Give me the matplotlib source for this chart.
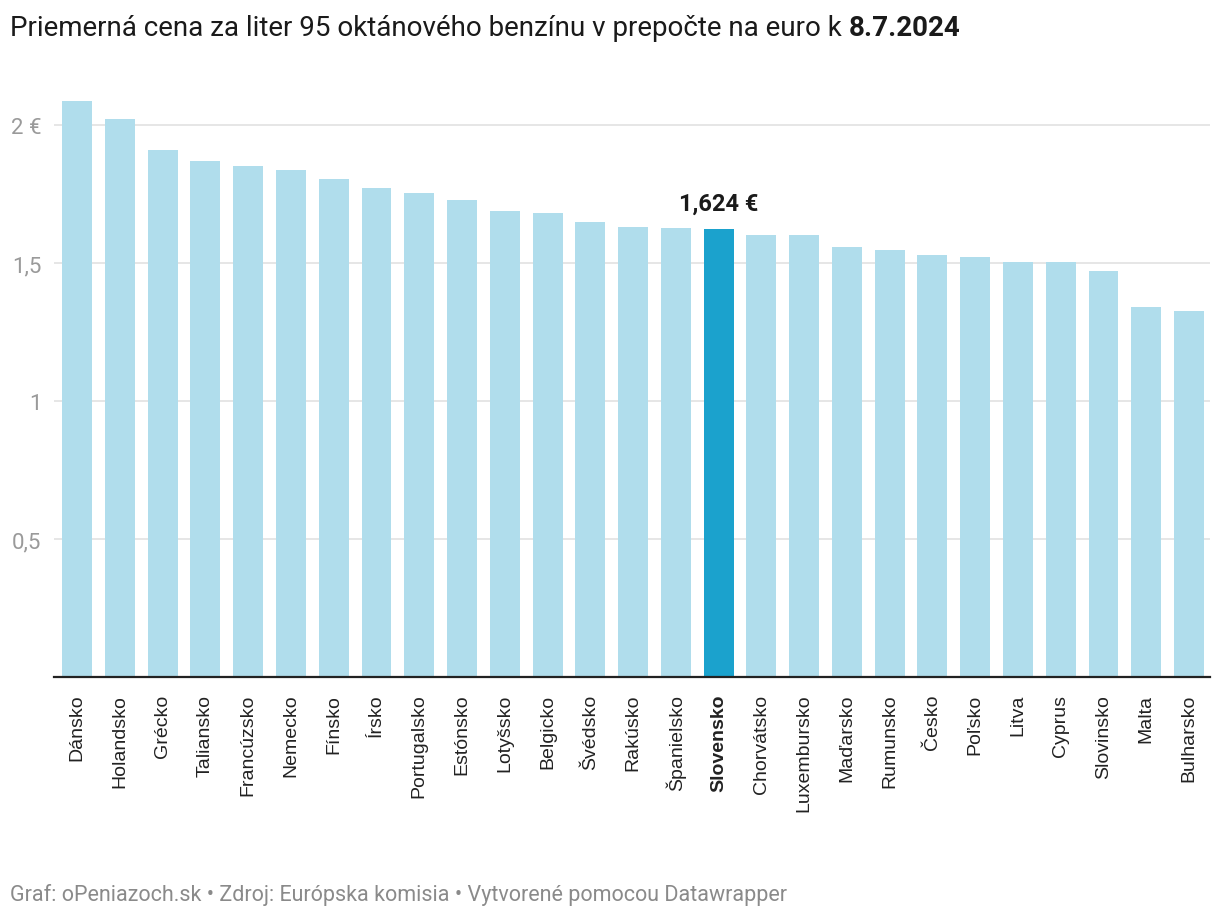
import matplotlib
matplotlib.use('Agg')
import matplotlib.pyplot as plt

# --- Data ---
countries = ["Dánsko", "Holandsko", "Grécko", "Taliansko", "Francúzsko", "Nemecko",
             "Fínsko", "Írsko", "Portugalsko", "Estónsko", "Lotyšsko", "Belgicko",
             "Švédsko", "Rakúsko", "Španielsko", "Slovensko", "Chorvátsko", "Luxembursko",
             "Maďarsko", "Rumunsko", "Česko", "Poľsko", "Litva", "Cyprus", "Slovinsko",
             "Malta", "Bulharsko"]
prices = [2.086, 2.021, 1.909, 1.869, 1.851, 1.836, 1.803, 1.771, 1.752, 1.727,
          1.690, 1.680, 1.647, 1.629, 1.626, 1.624, 1.600, 1.600, 1.557, 1.546,
          1.528, 1.521, 1.503, 1.503, 1.470, 1.339, 1.328]
highlight = "Slovensko"
y_ticks = [0.5, 1, 1.5, 2]
y_labels = ["0,5", "1", "1,5", "2 €"]

light = "#b0ddec"
dark = "#1ba2cd"

fig = plt.figure(figsize=(12.2, 9.2), dpi=100)
ax = fig.add_axes([0.0443, 0.263, 0.9475, 0.66])

colors = [dark if c == highlight else light for c in countries]
x = list(range(len(countries)))
ax.bar(x, prices, width=0.70, color=colors, zorder=2)

ax.set_xlim(-0.54, len(countries) - 1 + 0.49)
ax.set_ylim(0, 2.2)

# gridlines + y labels
ax.set_yticks(y_ticks)
ax.set_yticklabels(y_labels, fontsize=16, color="#9a9a9a", family="Roboto")
ax.yaxis.grid(True, color="#e2e2e2", linewidth=1.2, zorder=0)
ax.tick_params(axis="y", length=0, pad=9)
for s in ["top", "right", "left"]:
    ax.spines[s].set_visible(False)
ax.spines["bottom"].set_color("#222222")
ax.spines["bottom"].set_linewidth(1.6)

ax.set_xticks(x)
ax.set_xticklabels(countries, rotation=90, fontsize=14, color="#222222",
                   family="Liberation Sans", va="top")
ax.tick_params(axis="x", length=0, pad=12)
for lbl in ax.get_xticklabels():
    if lbl.get_text() == highlight:
        lbl.set_fontweight("bold")

# annotation above highlighted bar
i = countries.index(highlight)
ax.annotate(f"{prices[i]:.3f} €".replace(".", ","), xy=(i, prices[i]),
            xytext=(0, 10), textcoords="offset points", ha="center", va="bottom",
            fontsize=17, fontweight="bold", color="#1a1a1a", family="Roboto")

# title
fig.text(0.008, 0.969, "Priemerná cena za liter 95 oktánového benzínu v prepočte na euro k ",
         fontsize=20, family="Roboto", color="#1a1a1a", va="center", ha="left")
t = fig.texts[-1]
fig.canvas.draw()
bb = t.get_window_extent()
fig.text(bb.x1 / fig.bbox.width, 0.969, "8.7.2024", fontsize=20, family="Roboto",
         fontweight="bold", color="#1a1a1a", va="center", ha="left")

# footer
fig.text(0.008, 0.027, "Graf: oPeniazoch.sk • Zdroj: Európska komisia • Vytvorené pomocou Datawrapper",
         fontsize=15.5, family="Roboto", color="#8a8a8a", va="center", ha="left")

fig.savefig("out.png", dpi=100)
